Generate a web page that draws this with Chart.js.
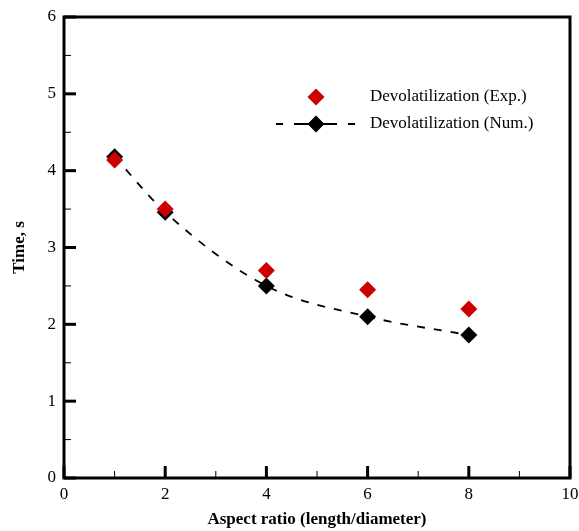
<!DOCTYPE html>
<html>
<head>
<meta charset="utf-8">
<script src="https://cdn.jsdelivr.net/npm/chart.js@4.4.1/dist/chart.umd.min.js"></script>
<style>
  html, body { margin: 0; padding: 0; background: #fff; }
  #wrap { width: 579px; height: 531px; }
</style>
</head>
<body>
<div id="wrap"><canvas id="timeChart" width="579" height="531"></canvas></div>
<script>
// ---------------------------------------------------------------
//   data
// ---------------------------------------------------------------
const aspectRatio = [1, 2, 4, 6, 8];
const expTime = [4.14, 3.5, 2.7, 2.45, 2.2];
const numTime = [4.18, 3.46, 2.5, 2.1, 1.86];

const xMajorTicks = [0, 2, 4, 6, 8, 10];
const xMinorTicks = [1, 3, 5, 7, 9];
const yMajorTicks = [0, 1, 2, 3, 4, 5, 6];
const yMinorTicks = [0.5, 1.5, 2.5, 3.5, 4.5, 5.5];

const seriesLabels = ['Devolatilization (Exp.)', 'Devolatilization (Num.)'];

const serif = "'Liberation Serif', 'Times New Roman', serif";

// ---------------------------------------------------------------
//   frame + inward ticks
// ---------------------------------------------------------------
const framePlugin = {
  id: 'frame',
  afterDraw: function(chart) {
    const ctx = chart.ctx;
    const a = chart.chartArea;
    const xs = chart.scales.x;
    const ys = chart.scales.y;
    ctx.save();
    ctx.strokeStyle = '#000';
    ctx.lineWidth = 3;
    ctx.strokeRect(a.left, a.top, a.right - a.left, a.bottom - a.top);

    const tick = function(x1, y1, x2, y2) {
      ctx.beginPath();
      ctx.moveTo(x1, y1);
      ctx.lineTo(x2, y2);
      ctx.stroke();
    };
    ctx.lineWidth = 3;
    xMajorTicks.forEach(function(v) {
      const px = xs.getPixelForValue(v);
      tick(px, a.bottom, px, a.bottom - 12);
    });
    yMajorTicks.forEach(function(v) {
      const py = ys.getPixelForValue(v);
      tick(a.left, py, a.left + 12, py);
    });
    ctx.lineWidth = 1;
    xMinorTicks.forEach(function(v) {
      const px = xs.getPixelForValue(v);
      tick(px, a.bottom, px, a.bottom - 7);
    });
    yMinorTicks.forEach(function(v) {
      const py = ys.getPixelForValue(v);
      tick(a.left, py, a.left + 7, py);
    });
    ctx.restore();
  }
};

// ---------------------------------------------------------------
//   legend inside plot
// ---------------------------------------------------------------
const legendPlugin = {
  id: 'boxLegend',
  afterDraw: function(chart) {
    const ctx = chart.ctx;
    const diamond = function(cx, cy, r, color) {
      ctx.fillStyle = color;
      ctx.beginPath();
      ctx.moveTo(cx, cy - r);
      ctx.lineTo(cx + r, cy);
      ctx.lineTo(cx, cy + r);
      ctx.lineTo(cx - r, cy);
      ctx.closePath();
      ctx.fill();
    };
    ctx.save();
    diamond(316, 97, 8.5, '#cc0000');

    ctx.strokeStyle = '#000';
    ctx.lineWidth = 2;
    ctx.setLineDash([7, 11]);
    ctx.beginPath();
    ctx.moveTo(276, 124);
    ctx.lineTo(358, 124);
    ctx.stroke();
    ctx.setLineDash([]);
    ctx.beginPath();
    ctx.moveTo(300, 124);
    ctx.lineTo(332, 124);
    ctx.stroke();
    diamond(316, 124, 8.5, '#000');

    ctx.fillStyle = '#000';
    ctx.font = '17px ' + serif;
    ctx.textBaseline = 'middle';
    ctx.fillText(seriesLabels[0], 370, 97);
    ctx.fillText(seriesLabels[1], 370, 124);
    ctx.restore();
  }
};

const config = {
  type: 'scatter',
  data: {
    datasets: [
      {
        label: seriesLabels[0],
        data: aspectRatio.map(function(x, i) { return { x: x, y: expTime[i] }; }),
        pointStyle: 'rectRot',
        pointRadius: 8.5,
        pointBackgroundColor: '#cc0000',
        pointBorderWidth: 0,
        showLine: false
      },
      {
        label: seriesLabels[1],
        data: aspectRatio.map(function(x, i) { return { x: x, y: numTime[i] }; }),
        pointStyle: 'rectRot',
        pointRadius: 8.5,
        pointBackgroundColor: '#000',
        pointBorderWidth: 0,
        showLine: true,
        borderColor: '#000',
        borderWidth: 1.8,
        borderDash: [8, 9],
        cubicInterpolationMode: 'monotone'
      }
    ]
  },
  options: {
    responsive: false,
    animation: false,
    layout: { padding: { left: 0, right: 9, top: 17, bottom: 0 } },
    plugins: {
      legend: { display: false },
      tooltip: { enabled: false }
    },
    scales: {
      x: {
        type: 'linear',
        min: 0,
        max: 10,
        grid: { display: false, drawTicks: false },
        border: { display: false },
        ticks: {
          stepSize: 2,
          padding: 6,
          color: '#000',
          font: { family: serif, size: 17 }
        },
        title: {
          display: true,
          text: 'Aspect ratio (length/diameter)',
          color: '#000',
          font: { family: serif, size: 17, weight: 'bold' },
          padding: { top: 0, bottom: 1 }
        },
        afterFit: function(scale) {
          scale.height = 53;
          scale.paddingLeft = 0;
          scale.paddingRight = 0;
        }
      },
      y: {
        type: 'linear',
        min: 0,
        max: 6,
        grid: { display: false, drawTicks: false },
        border: { display: false },
        ticks: {
          stepSize: 1,
          padding: 8,
          color: '#000',
          font: { family: serif, size: 17 }
        },
        title: {
          display: true,
          text: 'Time, s',
          color: '#000',
          font: { family: serif, size: 17, weight: 'bold' },
          padding: { top: 9, bottom: 0 }
        },
        afterFit: function(scale) {
          scale.width = 64;
          scale.paddingTop = 0;
          scale.paddingBottom = 0;
        }
      }
    }
  },
  plugins: [framePlugin, legendPlugin]
};

const timeChart = new Chart(document.getElementById('timeChart'), config);
</script>
</body>
</html>
